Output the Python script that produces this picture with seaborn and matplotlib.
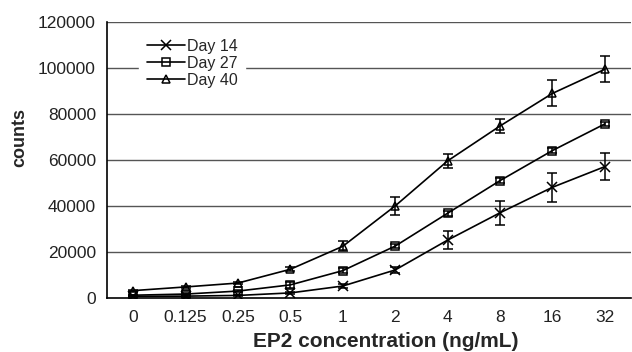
import matplotlib
matplotlib.use("Agg")
import matplotlib.pyplot as plt
import seaborn as sns
import numpy as np

categories = ["0", "0.125", "0.25", "0.5", "1", "2", "4", "8", "16", "32"]
day14 = [500, 600, 900, 2000, 5000, 12000, 25000, 36900, 48000, 57000]
day14_err = [300, 300, 400, 600, 800, 1500, 3800, 5300, 6400, 5800]
day27 = [1000, 1500, 2800, 5500, 11700, 22400, 36700, 50900, 64000, 75600]
day27_err = [300, 400, 500, 1200, 1000, 1000, 1000, 1200, 1000, 1000]
day40 = [3000, 4600, 6300, 12300, 22300, 39900, 59500, 74700, 88900, 99400]
day40_err = [400, 500, 600, 900, 2200, 4000, 2900, 3100, 5700, 5700]
series_names = ["Day 14", "Day 27", "Day 40"]
y_ticks = [0, 20000, 40000, 60000, 80000, 100000, 120000]

sns.set_style("white")
plt.rcParams["font.family"] = ["Liberation Sans", "DejaVu Sans"]

fig = plt.figure(figsize=(6.32, 3.52), dpi=100)
ax = fig.add_axes([107 / 632, 54.5 / 352, 524 / 632, (297.5 - 22) / 352])

xpos = np.arange(len(categories))
markers = ["x", "s", "^"]
sizes = [7, 6, 6]
data = [(day14, day14_err), (day27, day27_err), (day40, day40_err)]

for ymax in y_ticks[1:]:
    ax.axhline(ymax, color="#555555", lw=1.0, zorder=0)

for (vals, errs), name, mk, ms in zip(data, series_names, markers, sizes):
    sns.lineplot(x=xpos, y=vals, ax=ax, color="black", lw=1.2, marker=mk,
                 markersize=ms, markerfacecolor="none", markeredgecolor="black",
                 markeredgewidth=1.1, label=name, zorder=3)
    ax.errorbar(xpos, vals, yerr=errs, fmt="none", ecolor="black",
                elinewidth=1.1, capsize=3.8, capthick=1.1, zorder=3)

ax.set_xlim(-0.5, len(categories) - 0.5)
ax.set_ylim(0, 120000)
ax.set_yticks(y_ticks)
ax.set_yticklabels([str(t) for t in y_ticks], fontsize=12.5, color="#222222")
ax.set_xticks(xpos)
ax.set_xticklabels(categories, fontsize=12.5, color="#222222")
ax.set_xticks(np.arange(-0.5, len(categories), 1.0), minor=True)
ax.tick_params(axis="x", which="major", length=0, pad=9)
ax.tick_params(axis="x", which="minor", length=5, width=1, color="black", direction="out")
ax.tick_params(axis="y", which="major", length=4, width=1, color="black", direction="out", pad=4)

for s in ["top", "right"]:
    ax.spines[s].set_visible(False)
ax.spines["left"].set_color("black")
ax.spines["bottom"].set_color("black")
ax.spines["left"].set_linewidth(1.2)
ax.spines["bottom"].set_linewidth(1.2)

ax.set_xlabel("EP2 concentration (ng/mL)", fontsize=15, fontweight="bold")
ax.xaxis.set_label_coords((386 - 107) / 524, (297.5 - 341.5) / 275.5)
ax.xaxis.label.set_va("center")
ax.set_ylabel("counts", fontsize=13, fontweight="bold")
ax.yaxis.set_label_coords((19.5 - 107) / 524, (297.5 - 137.5) / 275.5)
ax.yaxis.label.set_va("center")

leg = ax.legend(loc="upper left", bbox_to_anchor=(0.062, 0.965), frameon=True,
                fontsize=11.5, handlelength=2.4, handletextpad=0.13, labelspacing=0.12,
                borderpad=0.45, borderaxespad=0.0, fancybox=False)
leg.get_frame().set_edgecolor("white")
leg.get_frame().set_facecolor("white")
leg.get_frame().set_alpha(1.0)

fig.savefig("out.png", dpi=100)
